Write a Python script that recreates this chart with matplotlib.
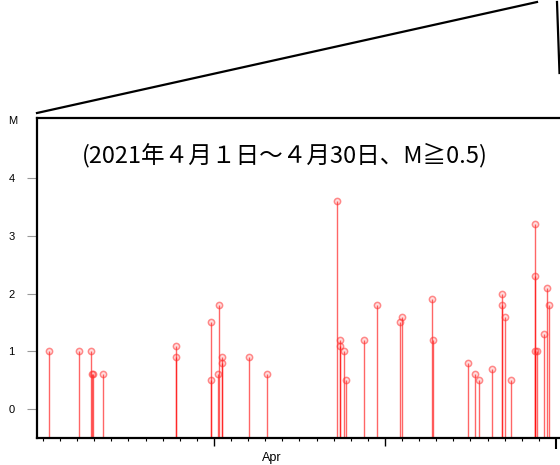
import matplotlib
matplotlib.use("Agg")
import matplotlib.pyplot as plt
from matplotlib.lines import Line2D
import matplotlib.ticker as mticker

# Days since 2021-04-01 00:00 (fractional) and magnitudes
days = [0.37, 2.12, 2.82, 2.87, 2.92, 3.49, 7.76, 7.75, 9.84, 9.83,
        10.25, 10.31, 10.45, 10.49, 12.06, 13.10,
        17.21, 17.35, 17.39, 17.62, 17.74, 18.79, 19.53, 20.88, 20.99,
        22.77, 22.82, 24.87, 25.25, 25.48, 26.26, 26.84, 26.83, 27.00, 27.37,
        28.79, 28.78, 28.80, 28.89, 29.28, 29.47, 29.57]
mags = [1.0, 1.0, 1.0, 0.6, 0.6, 0.6, 1.1, 0.9, 1.5, 0.5,
        0.6, 1.8, 0.9, 0.8, 0.9, 0.6,
        3.6, 1.2, 1.1, 1.0, 0.5, 1.2, 1.8, 1.5, 1.6,
        1.9, 1.2, 0.8, 0.6, 0.5, 0.7, 2.0, 1.8, 1.6, 0.5,
        3.2, 2.3, 1.0, 1.0, 1.3, 2.1, 1.8]
ytick_vals = [0, 1, 2, 3, 4]
ytick_labels = ["0", "1", "2", "3", "4"]
month_label = "Apr"
title_text = "(2021年４月１日～４月30日、M≧0.5)"

W, H = 560, 465
fig = plt.figure(figsize=(W / 100, H / 100), dpi=100)

x0, x1 = -0.35, 31.0
ymin, ymax = -0.5, 5.04
px_per_day = 17.1
left_px = 37
right_px = left_px + (x1 - x0) * px_per_day
ax = fig.add_axes([left_px / W, (H - 438) / H, (right_px - left_px) / W, 320 / H])
ax.set_xlim(x0, x1)
ax.set_ylim(ymin, ymax)

stem_col = (1, 0, 0, 0.6)
ax.vlines(days, ymin, mags, colors=[stem_col], linewidth=1.0, zorder=2)
ax.plot(days, mags, linestyle="none", marker="o", markersize=4.5,
        mfc=(1, 0, 0, 0.12), mec=(1, 0.2, 0.2, 0.55), mew=1.1, zorder=3)

for s in ["left", "top", "bottom", "right"]:
    ax.spines[s].set_linewidth(1.6)
    ax.spines[s].set_color("black")

ax.set_yticks(ytick_vals)
ax.set_yticklabels(ytick_labels, fontfamily="Liberation Sans", fontsize=8)
ax.tick_params(axis="y", direction="out", length=7, width=0.8, color="#999999", pad=9)

ax.xaxis.set_major_locator(mticker.FixedLocator([10, 20, 30]))
ax.xaxis.set_minor_locator(mticker.MultipleLocator(1))
ax.set_xticklabels([])
ax.tick_params(axis="x", which="major", direction="out", length=6, width=1.0, color="black")
ax.tick_params(axis="x", which="minor", direction="out", length=2.5, width=0.8, color="black")
maj = ax.xaxis.get_major_ticks()
maj[2].tick1line.set_color("#999999")
maj[2].tick1line.set_markersize(8)
maj[2].tick1line.set_markeredgewidth(1.5)

ax.text(13.4, -0.0625, month_label, transform=ax.get_xaxis_transform(),
        ha="center", va="center", fontfamily="Liberation Sans", fontsize=9)
fig.text(12.5 / W, 1 - 121 / H, "M", ha="center", va="center",
         fontfamily="Liberation Sans", fontsize=8)

fig.text(82 / W, 1 - 155 / H, title_text, ha="left", va="center",
         fontfamily=["Noto Sans CJK JP", "DejaVu Sans"], fontsize=17)

def fl(p0, p1):
    fig.add_artist(Line2D([p0[0] / W, p1[0] / W], [1 - p0[1] / H, 1 - p1[1] / H],
                          transform=fig.transFigure, color="black", linewidth=1.6))

fl((37, 113), (537, 2))
fl((557, 2), (559.5, 73))

fig.savefig("out.png", dpi=100)
